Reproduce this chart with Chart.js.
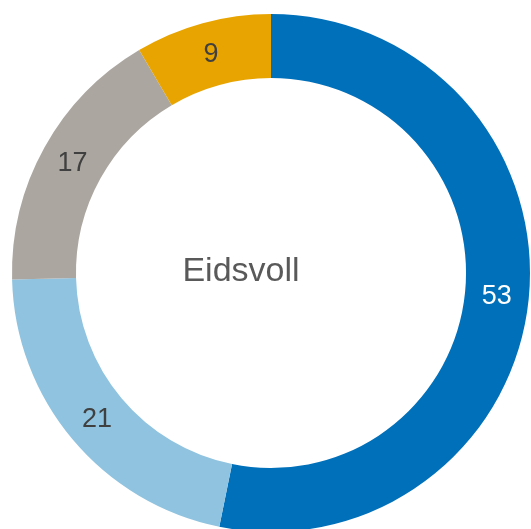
<!DOCTYPE html>
<html>
<head>
<meta charset="utf-8">
<script src="https://cdn.jsdelivr.net/npm/chart.js@4/dist/chart.umd.min.js"></script>
<style>
  html, body { margin: 0; padding: 0; background: #ffffff; overflow: hidden; width: 531px; height: 529px; }
  #wrap { position: absolute; left: 0; top: 0; width: 542px; height: 546px; }
</style>
</head>
<body>
<div id="wrap"><canvas id="c"></canvas></div>
<script>
const categories = ["A", "B", "C", "D"];
const values = [53.2, 21.4, 16.9, 8.5];
const valueLabels = ["53", "21", "17", "9"];
const colors = ["#0070BA", "#8FC3DF", "#ACA6A0", "#E8A400"];
const labelColors = ["#FFFFFF", "#404040", "#404040", "#404040"];
const centerTitle = "Eidsvoll";

const labelPlugin = {
  id: 'arcLabels',
  afterDatasetsDraw(chart) {
    const ctx = chart.ctx;
    const meta = chart.getDatasetMeta(0);
    ctx.save();
    ctx.font = '27px "Liberation Sans", Arial, sans-serif';
    ctx.textAlign = 'center';
    ctx.textBaseline = 'middle';
    meta.data.forEach((arc, i) => {
      const p = arc.tooltipPosition();
      ctx.fillStyle = labelColors[i];
      ctx.fillText(valueLabels[i], p.x, p.y + 1);
    });
    const a = chart.chartArea;
    const cx = (a.left + a.right) / 2;
    const cy = (a.top + a.bottom) / 2;
    ctx.font = '34px "Liberation Sans", Arial, sans-serif';
    ctx.fillStyle = '#595959';
    ctx.fillText(centerTitle, cx - 30, cy - 1);
    ctx.restore();
  }
};

new Chart(document.getElementById('c'), {
  type: 'doughnut',
  data: {
    labels: categories,
    datasets: [{
      data: values,
      backgroundColor: colors,
      borderWidth: 0
    }]
  },
  options: {
    responsive: true,
    maintainAspectRatio: false,
    animation: false,
    cutout: '75.3%',
    layout: { padding: { left: 12, right: 12, top: 14, bottom: 14 } },
    plugins: {
      legend: { display: false },
      tooltip: { enabled: false }
    }
  },
  plugins: [labelPlugin]
});
</script>
</body>
</html>
